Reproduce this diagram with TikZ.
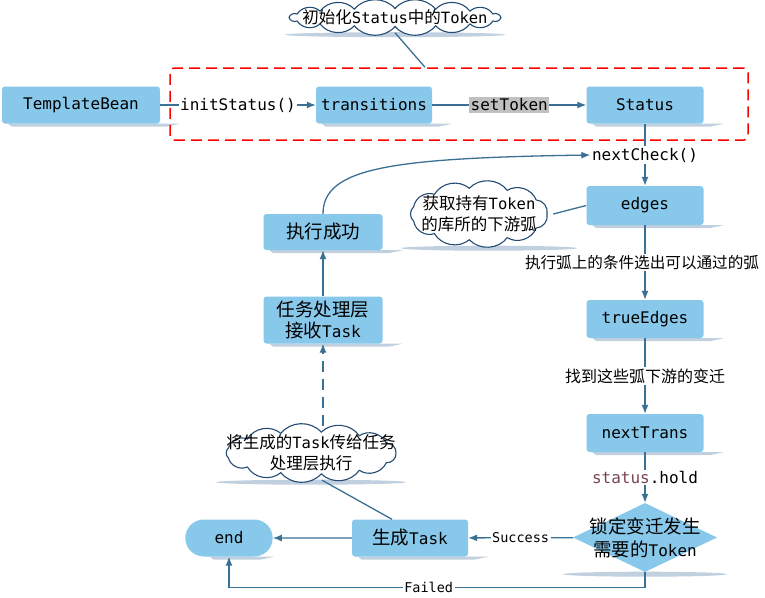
\documentclass[tikz,border=0pt]{standalone}
\usepackage{fontspec}
\setmainfont{DejaVu Sans Mono}
\newfontfamily\zh{Noto Sans CJK SC}
\usetikzlibrary{shapes.geometric,shapes.misc,arrows.meta,backgrounds,calc}
\definecolor{boxblue}{RGB}{136,200,234}
\definecolor{linec}{RGB}{58,112,148}
\definecolor{cloudc}{RGB}{35,75,115}
\definecolor{shad}{RGB}{192,208,222}
\definecolor{stc}{RGB}{120,70,80}
\definecolor{tokgray}{RGB}{192,192,192}
\newcommand{\zs}[1]{{\zh\fontsize{18.5}{21}\selectfont #1}}
\newcommand{\zc}[1]{{\zh\fontsize{16.5}{20}\selectfont #1}}
% cloud outline: node, semi-axis a, semi-axis b, puffs
\newcommand{\mycloud}[4]{%
  \draw[cloudc, fill=white, line width=1.1pt] ($(#1)+(#2,0)$)
    \foreach \i in {1,...,#4}{ to[bend left=50] ($(#1)+({#2*cos(\i*360/#4)},{#3*sin(\i*360/#4)})$) } -- cycle;}
\begin{document}
\begin{tikzpicture}[x=1pt,y=-1pt,
  box/.style={rectangle, rounded corners=3pt, fill=boxblue, minimum height=37pt, minimum width=117pt, inner sep=2pt, font=\fontsize{16}{21}\selectfont, align=center},
  conn/.style={draw=linec, line width=1.3pt},
  arr/.style={conn, -{Latex[length=9pt,width=7pt]}},
  lbl/.style={fill=white, inner sep=1.5pt, font=\fontsize{16}{18}\selectfont},
  zhlbl/.style={fill=white, inner sep=1.5pt, font=\zh\fontsize{16}{19}\selectfont},
  cloudn/.style={ellipse, inner sep=0pt},
  cloudtxt/.style={align=center, inner sep=0pt, font=\fontsize{15.5}{21}\selectfont}
]
\useasboundingbox (0,0) rectangle (765,597);

% group frame
\node[draw=red, line width=1.5pt, dash pattern=on 11pt off 6pt, rounded corners=4pt, minimum width=578pt, minimum height=72pt] (grp) at (459,104) {};

% boxes
\node[box, minimum width=158pt] (tb) at (81,105) {TemplateBean};
\node[box, minimum width=116pt] (tr) at (374,105) {transitions};
\node[box] (st) at (645,105) {Status};
\node[lbl] (nc) at (645,155) {nextCheck()};
\node[box, minimum height=39pt] (ed) at (645,205.5) {edges};
\node[box, minimum height=38pt] (te) at (645,319) {trueEdges};
\node[box, minimum height=38pt] (nt) at (645,433) {nextTrans};
\node[diamond, fill=boxblue, minimum width=144pt, minimum height=69pt, inner sep=0pt] (dia) at (645,537.5) {};
\node[align=center, inner sep=0pt, font=\fontsize{16}{23}\selectfont] (diat) at (dia.center) {\zs{锁定变迁发生}\\\zs{需要的}Token};
\node[box, minimum width=116pt] (gen) at (410,538) {\zs{生成}Task};
\node[rounded rectangle, fill=boxblue, minimum width=94pt, minimum height=37pt, font=\fontsize{16}{19}\selectfont] (end) at (229,538) {end};
\node[box, minimum width=119pt, minimum height=47pt] (tl) at (323,320) {\zs{任务处理层}\\\zs{接收}Task};
\node[box, minimum width=119pt, minimum height=36pt] (ok) at (323,232) {\zs{执行成功}};

% clouds (anchor ellipses, outlines, texts)
\node[cloudn, minimum width=224pt, minimum height=30pt] (cl1) at (395,17.5) {};
\node[cloudn, minimum width=148pt, minimum height=64pt] (cl2) at (479,214) {};
\node[cloudn, minimum width=182pt, minimum height=54pt] (cl3) at (311,453) {};
\mycloud{cl1}{106}{9}{16}
\mycloud{cl2}{68}{26}{11}
\mycloud{cl3}{85}{21}{13}
\node[cloudtxt] (cl1t) at (cl1.center) {\zc{初始化}Status\zc{中的}Token};
\node[cloudtxt] (cl2t) at (cl2.center) {\zc{获取持有}Token\\\zc{的库所的下游弧}};
\node[cloudtxt] (cl3t) at (cl3.center) {\zc{将生成的}Task\zc{传给任务}\\\zc{处理层执行}};

% shadows
\begin{scope}[on background layer]
\foreach \n in {tb,tr,st,ed,te,nt,ok,tl,gen,end}{
  \fill[shad] ([xshift=6pt]\n.south west) -- ([xshift=20pt]\n.south east) -- ([xshift=6pt,yshift=-3pt]\n.south east) -- ([xshift=10pt,yshift=-3pt]\n.south west) -- cycle;
}
\fill[shad] ([yshift=-2pt]dia.south) ellipse (82pt and 2.5pt);
\fill[shad] ([yshift=-2pt]cl1.south) ellipse (110pt and 2.5pt);
\fill[shad] ([xshift=10pt,yshift=-2pt]cl2.south) ellipse (88pt and 2.5pt);
\fill[shad] ([yshift=-2pt]cl3.south) ellipse (95pt and 2.5pt);
\end{scope}

% connectors
\draw[arr] (tb) -- node[lbl] {initStatus()} (tr);
\draw[arr] (tr) -- node[lbl, fill=tokgray] {setToken} (st);
\draw[conn] (st) -- (nc);
\draw[arr] (nc) -- (ed);
\draw[arr] (ed) -- node[zhlbl, font=\zh\fontsize{15.6}{19}\selectfont, xshift=-3pt] {执行弧上的条件选出可以通过的弧} (te);
\draw[arr] (te) -- node[zhlbl] {找到这些弧下游的变迁} (nt);
\draw[arr] (nt) -- node[lbl] {\textcolor{stc}{status}.hold} (dia);
\draw[arr] (dia) -- node[lbl, font=\fontsize{13.5}{15}\selectfont] {Success} (gen);
\draw[arr] (gen) -- (end);
\draw[arr] (dia.south) -- ++(0,15.5) -| node[lbl, pos=0.26, font=\fontsize{13.5}{15}\selectfont] {Failed} (end.south);
\draw[arr] (tl) -- (ok);
\draw[arr, dash pattern=on 11pt off 7pt] (tl.south |- cl3.north) -- (tl.south);
\draw[arr] (ok.north) .. controls (323,168) and (390,158) .. (nc.west);
\draw[conn] ([xshift=11pt]cl3.south) -- ([xshift=-18pt]gen.north);
\draw[conn] (cl1.south) -- ([xshift=-34pt]grp.north);
\draw[conn] (cl2.east) -- (ed.west);
\end{tikzpicture}
\end{document}
